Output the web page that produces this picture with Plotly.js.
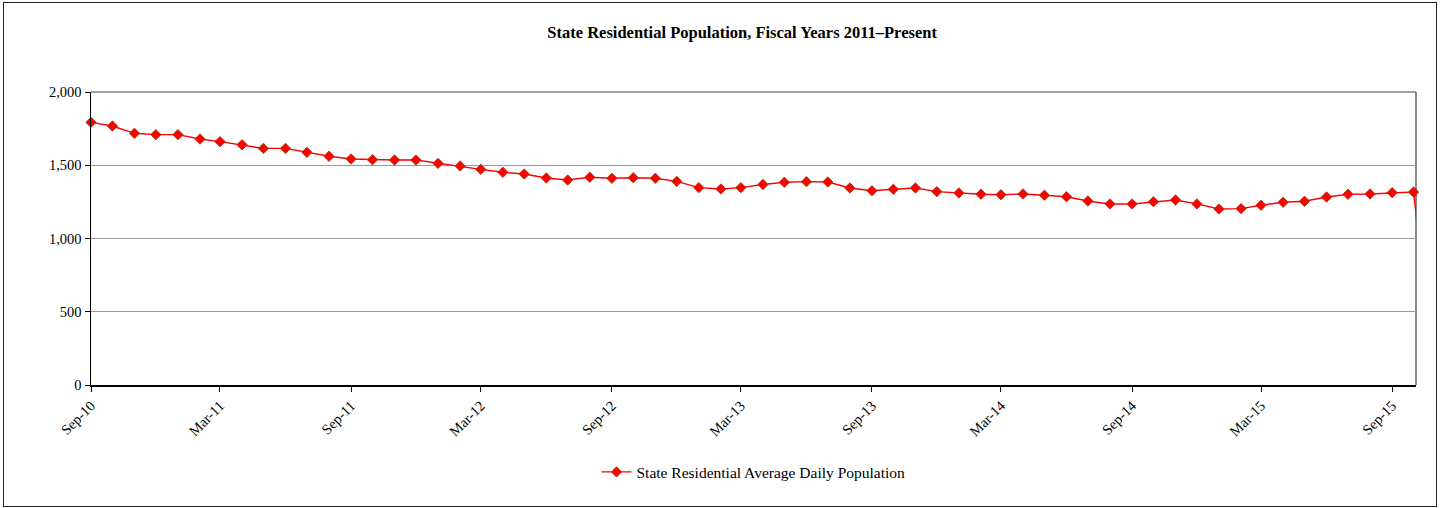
<!DOCTYPE html>
<html>
<head>
<meta charset="utf-8">
<script src="https://cdn.plot.ly/plotly-3.0.1.min.js"></script>
<style>
  html, body { margin: 0; padding: 0; background: #fff; }
  #wrap { position: relative; width: 1441px; height: 508px; }
  #chart { width: 1441px; height: 508px; }
  #frame { position: absolute; left: 3px; top: 2px; width: 1432px; height: 503px; border: 1px solid #222; pointer-events: none; }
</style>
</head>
<body>
<div id="wrap">
  <div id="chart"></div>
  <div id="frame"></div>
</div>
<script>
// Monthly dates, Sep-10 through Nov-15 (last value runs off the right edge of the chart)
const months = [
  "2010-09-01","2010-10-01","2010-11-01","2010-12-01","2011-01-01","2011-02-01","2011-03-01","2011-04-01",
  "2011-05-01","2011-06-01","2011-07-01","2011-08-01","2011-09-01","2011-10-01","2011-11-01","2011-12-01",
  "2012-01-01","2012-02-01","2012-03-01","2012-04-01","2012-05-01","2012-06-01","2012-07-01","2012-08-01",
  "2012-09-01","2012-10-01","2012-11-01","2012-12-01","2013-01-01","2013-02-01","2013-03-01","2013-04-01",
  "2013-05-01","2013-06-01","2013-07-01","2013-08-01","2013-09-01","2013-10-01","2013-11-01","2013-12-01",
  "2014-01-01","2014-02-01","2014-03-01","2014-04-01","2014-05-01","2014-06-01","2014-07-01","2014-08-01",
  "2014-09-01","2014-10-01","2014-11-01","2014-12-01","2015-01-01","2015-02-01","2015-03-01","2015-04-01",
  "2015-05-01","2015-06-01","2015-07-01","2015-08-01","2015-09-01","2015-10-01","2015-11-01"
];

const avgDailyPopulation = [
  1793, 1768, 1718, 1709, 1709, 1679, 1661, 1640,
  1615, 1615, 1588, 1561, 1543, 1538, 1536, 1536,
  1513, 1495, 1472, 1452, 1440, 1413, 1399, 1418,
  1411, 1415, 1411, 1390, 1347, 1338, 1347, 1369,
  1384, 1388, 1386, 1345, 1326, 1336, 1345, 1320,
  1311, 1302, 1299, 1304, 1295, 1285, 1256, 1236,
  1236, 1251, 1263, 1236, 1201, 1204, 1227, 1247,
  1254, 1283, 1302, 1304, 1313, 1317, 0
];

const tickDates = ["2010-09-01","2011-03-01","2011-09-01","2012-03-01","2012-09-01","2013-03-01",
                   "2013-09-01","2014-03-01","2014-09-01","2015-03-01","2015-09-01"];
const tickLabels = ["Sep-10","Mar-11","Sep-11","Mar-12","Sep-12","Mar-13",
                    "Sep-13","Mar-14","Sep-14","Mar-15","Sep-15"];
const yTicks = [0, 500, 1000, 1500, 2000];

const serif = "'Liberation Serif', 'Times New Roman', serif";

const trace = {
  x: months,
  y: avgDailyPopulation,
  type: "scatter",
  mode: "lines+markers",
  name: "State Residential Average Daily Population",
  line: { color: "#ff0000", width: 1.4 },
  marker: { symbol: "diamond", size: 8, color: "#ff0000", line: { color: "#9a3a10", width: 0.8 } },
  cliponaxis: false,
  hoverinfo: "x+y"
};

const layout = {
  width: 1441,
  height: 508,
  margin: { l: 91, r: 25, t: 92, b: 123 },
  paper_bgcolor: "#ffffff",
  plot_bgcolor: "#ffffff",
  font: { family: serif, size: 14, color: "#000" },
  title: {
    text: "<b>State Residential Population, Fiscal Years 2011–Present</b>",
    font: { family: serif, size: 16.5, color: "#000" },
    x: 0.515, xref: "container", xanchor: "center",
    y: 0.937, yref: "container", yanchor: "middle"
  },
  xaxis: {
    type: "date",
    range: ["2010-09-01", "2015-10-04 12:00"],
    tickmode: "array",
    tickvals: tickDates,
    ticktext: tickLabels,
    tickangle: -45,
    ticks: "outside",
    ticklen: 5,
    tickcolor: "#000",
    showgrid: false,
    showline: true,
    linecolor: "#000",
    linewidth: 1.5,
    zeroline: false,
    tickfont: { family: serif, size: 14.5, color: "#000" }
  },
  yaxis: {
    range: [0, 2000],
    tickmode: "array",
    tickvals: yTicks,
    tickformat: ",d",
    ticks: "outside",
    ticklen: 5,
    tickcolor: "#000",
    showgrid: true,
    gridcolor: "#9a9a9a",
    gridwidth: 1,
    showline: true,
    linecolor: "#000",
    linewidth: 1.5,
    zeroline: false,
    tickfont: { family: serif, size: 14.5, color: "#000" }
  },
  shapes: [
    { type: "line", xref: "paper", yref: "paper", x0: 1, x1: 1, y0: 0, y1: 1,
      line: { color: "#8a8a8a", width: 2 }, layer: "below" },
    { type: "line", xref: "paper", yref: "paper", x0: 0, x1: 1, y0: 1, y1: 1,
      line: { color: "#444", width: 1.2 }, layer: "below" }
  ],
  showlegend: true,
  legend: {
    orientation: "h",
    x: 0.5, xanchor: "center",
    y: -0.24, yanchor: "top",
    font: { family: serif, size: 15.5, color: "#000" },
    bgcolor: "rgba(0,0,0,0)"
  }
};

Plotly.newPlot("chart", [trace], layout, { displayModeBar: false, staticPlot: true });
</script>
</body>
</html>
